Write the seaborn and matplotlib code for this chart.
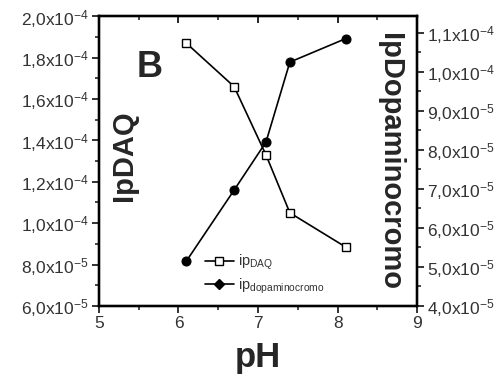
import matplotlib
matplotlib.use("Agg")
import matplotlib.pyplot as plt
import seaborn as sns
import pandas as pd
from matplotlib.ticker import FixedLocator, MultipleLocator, FuncFormatter, NullFormatter
from matplotlib.lines import Line2D
import math

sns.set_theme(style="ticks")
plt.rcParams['font.family'] = ['Liberation Sans', 'DejaVu Sans']
plt.rcParams['mathtext.fontset'] = 'custom'
plt.rcParams['mathtext.rm'] = 'Liberation Sans'
plt.rcParams['mathtext.it'] = 'Liberation Sans'
plt.rcParams['mathtext.bf'] = 'Liberation Sans:bold'

ph = [6.1, 6.7, 7.1, 7.4, 8.1]
ip_daq = [1.87e-4, 1.66e-4, 1.33e-4, 1.05e-4, 8.85e-5]
ip_dopa = [5.15e-5, 6.97e-5, 8.2e-5, 1.025e-4, 1.085e-4]
x_ticks = [5, 6, 7, 8, 9]
left_ticks = [6e-5, 8e-5, 1.0e-4, 1.2e-4, 1.4e-4, 1.6e-4, 1.8e-4, 2.0e-4]
right_ticks = [4e-5, 5e-5, 6e-5, 7e-5, 8e-5, 9e-5, 1.0e-4, 1.1e-4]

df = pd.DataFrame({"pH": ph, "daq": ip_daq, "dopa": ip_dopa})

fig = plt.figure(figsize=(5.02, 3.8), dpi=100)
ax = fig.add_axes([0.197, 0.195, 0.634, 0.762])
ax2 = ax.twinx()
ax3 = ax.twiny()

sns.lineplot(data=df, x="pH", y="daq", ax=ax, color="black", lw=1.2,
             marker="s", markersize=5.5, markerfacecolor="white",
             markeredgecolor="black", markeredgewidth=1.0)
sns.lineplot(data=df, x="pH", y="dopa", ax=ax2, color="black", lw=1.2,
             marker="o", markersize=6.5, markerfacecolor="black",
             markeredgecolor="black")

ax.set_xlim(5, 9)
ax3.set_xlim(5, 9)
ax.set_ylim(6e-5, 2e-4)
ax2.set_ylim(4e-5, 1.1423e-4)

def sci(v, pos=None):
    e = int(math.floor(math.log10(abs(v)) + 1e-9))
    m = v / 10**e
    s = f"{m:.1f}".replace(".", ",")
    return s + r"x10$^{" + str(e).replace("-", "\u2212") + "}$"

ax.xaxis.set_major_locator(FixedLocator(x_ticks))
ax.xaxis.set_minor_locator(MultipleLocator(0.5))
ax3.xaxis.set_major_locator(FixedLocator(x_ticks))
ax3.xaxis.set_minor_locator(MultipleLocator(0.5))
ax3.xaxis.set_major_formatter(NullFormatter())
ax.yaxis.set_major_locator(FixedLocator(left_ticks))
ax.yaxis.set_minor_locator(MultipleLocator(1e-5))
ax.yaxis.set_major_formatter(FuncFormatter(sci))
ax2.yaxis.set_major_locator(FixedLocator(right_ticks))
ax2.yaxis.set_minor_locator(MultipleLocator(5e-6))
ax2.yaxis.set_major_formatter(FuncFormatter(sci))
ax.set_xticklabels([str(t) for t in x_ticks])

for a in (ax, ax2, ax3):
    for s in a.spines.values():
        s.set_linewidth(1.6)
        s.set_color("black")
        s.set_visible(True)

ax.tick_params(axis="both", which="major", labelsize=12.5, colors="#333333",
               length=5, width=1.4, direction="out", pad=2)
ax.tick_params(axis="both", which="minor", length=3, width=1.2, direction="out")
ax.tick_params(axis="x", top=False, which="both")
ax.tick_params(axis="y", right=False, which="both")
ax3.tick_params(axis="x", which="major", length=5, width=1.4, direction="in", top=True)
ax3.tick_params(axis="x", which="minor", length=3, width=1.2, direction="in", top=True)
ax2.tick_params(axis="y", which="major", labelsize=12.5, colors="#333333",
                length=5, width=1.4, direction="out", pad=2)
ax2.tick_params(axis="y", which="minor", length=3, width=1.2, direction="out")
for t in ax.get_xticklabels() + ax.get_yticklabels() + ax2.get_yticklabels():
    t.set_color("#333333")
ax.set_xlabel("")
ax.set_ylabel("")
ax2.set_ylabel("")
ax3.set_xlabel("")

fig.text(0.514, 0.06, "pH", fontsize=25, fontweight="bold", ha="center", va="center")
ax.text(0.16, 0.825, "B", transform=ax.transAxes, fontsize=26, fontweight="bold",
        ha="center", va="center")
ax.text(0.08, 0.52, "IpDAQ", transform=ax.transAxes, fontsize=21, fontweight="bold",
        rotation=90, ha="center", va="center")
ax.text(0.915, 0.50, "IpDopaminocromo", transform=ax.transAxes, fontsize=21,
        fontweight="bold", rotation=270, ha="center", va="center")

handles = [
    Line2D([], [], color="black", lw=1.2, marker="s", markersize=5.5,
           markerfacecolor="white", markeredgecolor="black"),
    Line2D([], [], color="black", lw=1.2, marker="D", markersize=5,
           markerfacecolor="black"),
]
labels = [r"ip$_{\mathrm{DAQ}}$", r"ip$_{\mathrm{dopaminocromo}}$"]
ax.legend(handles, labels, loc="lower left", bbox_to_anchor=(0.30, 0.0),
          frameon=False, fontsize=10.5, handlelength=2.0, handletextpad=0.3,
          labelspacing=0.3, borderpad=0.2, labelcolor="#333333")

fig.savefig("out.png", dpi=100)
